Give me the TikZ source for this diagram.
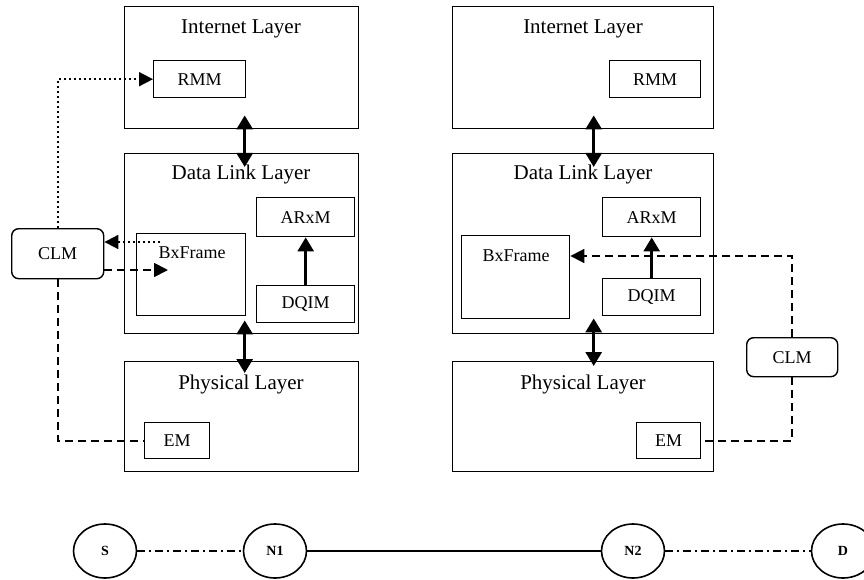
\documentclass[tikz,border=0pt]{standalone}
\usepackage{fontspec}
\setmainfont{Liberation Serif}
\usetikzlibrary{arrows.meta,shapes.geometric}
\begin{document}
\begin{tikzpicture}[x=1pt,y=-1pt,
  layer/.style={draw, line width=1.4pt, inner sep=0pt, anchor=north west},
  mod/.style={draw, line width=1.4pt, inner sep=0pt, anchor=north west, font=\fontsize{18}{20}\selectfont},
  clm/.style={draw, line width=1.4pt, rounded corners=7pt, inner sep=0pt, anchor=north west, font=\fontsize{18}{20}\selectfont},
  ttl/.style={inner sep=0pt, font=\fontsize{21}{24}\selectfont},
  lbl/.style={inner sep=0pt, font=\fontsize{18}{20}\selectfont},
  dbl/.style={line width=3pt, {Triangle[length=14pt,width=16pt]}-{Triangle[length=14pt,width=16pt]}},
  sarr/.style={line width=2.6pt, -{Triangle[length=14pt,width=16pt]}},
  dashln/.style={line width=1.8pt, dash pattern=on 8pt off 5pt},
  dotln/.style={line width=1.8pt, dash pattern=on 1.8pt off 3.2pt},
  tip/.style={-{Triangle[length=14pt,width=14pt]}},
  nd/.style={draw, ellipse, line width=1.6pt, minimum width=63pt, minimum height=54pt, inner sep=0pt, font=\fontsize{14}{16}\selectfont\bfseries},
  dashdot/.style={line width=1.6pt, dash pattern=on 8pt off 4pt on 2pt off 4pt}
]
\useasboundingbox (0,0) rectangle (864,580);

% ---------- left stack ----------
\node[layer, minimum width=234pt, minimum height=122pt] (IL1) at (124,6) {};
\node[ttl] (IL1t) at (241,29) {Internet Layer};
\node[mod, minimum width=92pt, minimum height=37pt] (RMM1) at (153,60) {RMM};

\node[layer, minimum width=234pt, minimum height=180pt] (DLL1) at (124,153) {};
\node[ttl] (DLL1t) at (241,174) {Data Link Layer};
\node[mod, minimum width=98pt, minimum height=39pt] (ARxM1) at (256,197) {ARxM};
\node[mod, minimum width=109pt, minimum height=82pt] (BxF1) at (136,233) {};
\node[lbl] (BxF1t) at (192,253) {BxFrame};
\node[mod, minimum width=98pt, minimum height=37pt] (DQIM1) at (256,285) {DQIM};

\node[layer, minimum width=234pt, minimum height=110pt] (PL1) at (124,361) {};
\node[ttl] (PL1t) at (241,384) {Physical Layer};
\node[mod, minimum width=65pt, minimum height=36pt] (EM1) at (144,422) {EM};

\node[clm, minimum width=92pt, minimum height=50pt] (CLM1) at (11,228) {CLM};

% ---------- right stack ----------
\node[layer, minimum width=261pt, minimum height=122pt] (IL2) at (452,6) {};
\node[ttl] (IL2t) at (583,29) {Internet Layer};
\node[mod, minimum width=91pt, minimum height=37pt] (RMM2) at (609,60) {RMM};

\node[layer, minimum width=261pt, minimum height=180pt] (DLL2) at (452,153) {};
\node[ttl] (DLL2t) at (583,174) {Data Link Layer};
\node[mod, minimum width=98pt, minimum height=39pt] (ARxM2) at (602,197) {ARxM};
\node[mod, minimum width=108pt, minimum height=83pt] (BxF2) at (461,235) {};
\node[lbl] (BxF2t) at (516,256) {BxFrame};
\node[mod, minimum width=98pt, minimum height=37pt] (DQIM2) at (602,278) {DQIM};

\node[layer, minimum width=261pt, minimum height=110pt] (PL2) at (452,361) {};
\node[ttl] (PL2t) at (583,384) {Physical Layer};
\node[mod, minimum width=64pt, minimum height=36pt] (EM2) at (636,422) {EM};

\node[clm, minimum width=91pt, minimum height=39pt] (CLM2) at (746,337) {CLM};

% ---------- vertical arrows ----------
\draw[dbl] ([xshift=3pt,yshift=14pt]IL1.south) -- ([xshift=3pt,yshift=-14pt]DLL1.north);
\draw[dbl] ([xshift=3pt,yshift=14pt]DLL1.south) -- ([xshift=3pt,yshift=-12pt]PL1.north);
\draw[dbl] ([xshift=10.5pt,yshift=14pt]IL2.south) -- ([xshift=10.5pt,yshift=-14pt]DLL2.north);
\draw[dbl] ([xshift=10.5pt,yshift=16pt]DLL2.south) -- ([xshift=10.5pt,yshift=-5pt]PL2.north);
\draw[sarr] (DQIM1.north) -- (ARxM1.south);
\draw[sarr] (DQIM2.north) -- (ARxM2.south);

% ---------- CLM links (left) ----------
\coordinate (b1s) at (160,242);
\coordinate (b1e) at (168,270);
\draw[dotln, tip] (CLM1.north) |- (RMM1.west);
\draw[dotln, tip] (b1s) -- (CLM1.east |- b1s);
\draw[dashln, tip] (CLM1.east |- b1e) -- (b1e);
\draw[dashln] (CLM1.south) |- (EM1.west);

% ---------- CLM links (right) ----------
\draw[dashln, tip] (CLM2.north) |- ([yshift=-21pt]BxF2.north east);
\draw[dashln] (CLM2.south) |- (EM2.east);

% ---------- path nodes ----------
\node[nd] (S) at (105,551) {S};
\node[nd] (N1) at (275,551) {N1};
\node[nd] (N2) at (633,551) {N2};
\node[nd] (D) at (843,551) {D};
\draw[dashdot] (S) -- (N1);
\draw[line width=1.6pt] (N1) -- (N2);
\draw[dashdot] (N2) -- (D);
\end{tikzpicture}
\end{document}
